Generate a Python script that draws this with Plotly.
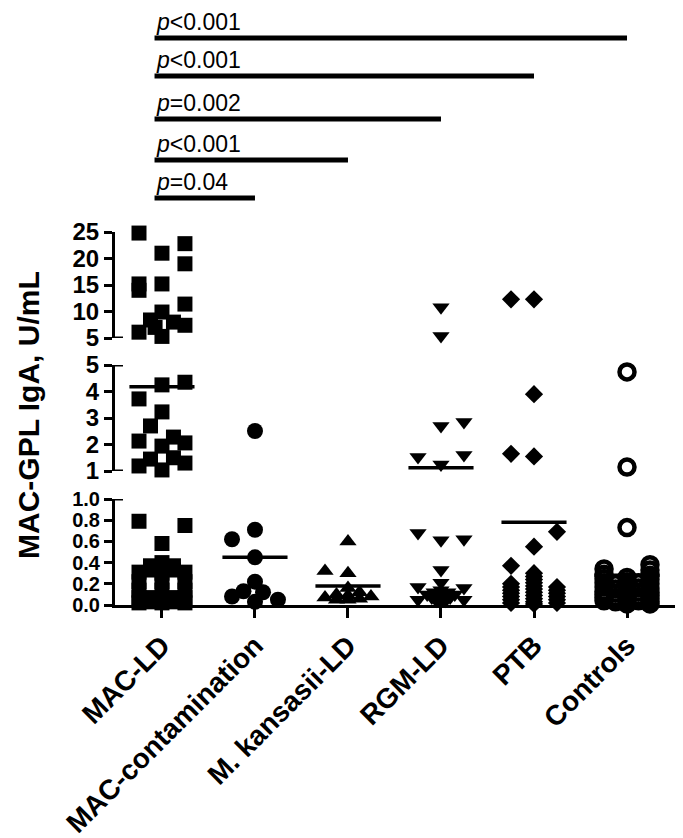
import plotly.graph_objects as go

# ---------------- data ----------------
categories = ["MAC-LD", "MAC-contamination", "M. kansasii-LD", "RGM-LD", "PTB", "Controls"]

mac_ld = [24.8, 22.8, 21.0, 19.0, 15.2, 14.0, 15.2, 11.4, 9.9, 8.4, 8.0, 7.4, 6.1, 5.3, 7.0,
          4.25, 4.35, 3.72, 3.23, 2.70, 2.13, 2.28, 2.06, 1.94, 1.45, 1.50, 1.19, 1.30, 1.04,
          0.79, 0.75, 0.58,
          0.40, 0.37, 0.37, 0.33, 0.33, 0.31, 0.31, 0.30, 0.22, 0.22, 0.22, 0.14, 0.14, 0.14,
          0.07, 0.07, 0.06, 0.07, 0.07, 0.03, 0.03, 0.02, 0.02, 0.02]
mac_contamination = [2.51, 0.71, 0.62, 0.45, 0.22, 0.13, 0.12, 0.08, 0.05, 0.03]
kansasii_ld = [0.60, 0.32, 0.30, 0.16, 0.12, 0.10, 0.09, 0.08, 0.07, 0.06, 0.05, 0.05]
rgm_ld = [10.8, 5.4, 2.70, 2.85, 1.53, 1.60, 1.25, 0.68, 0.61, 0.62, 0.33, 0.21, 0.17, 0.16,
          0.14, 0.12, 0.12, 0.10, 0.10, 0.08, 0.07, 0.07, 0.05, 0.05, 0.04, 0.04, 0.03]
ptb = [12.3, 1.65, 0.37, 0.20, 0.17, 0.14, 0.11, 0.08, 0.05, 0.02,
       12.3, 3.9, 1.55, 0.55, 0.30, 0.27, 0.24, 0.21, 0.18, 0.15, 0.12, 0.09, 0.06, 0.03, 0.01,
       0.69, 0.17, 0.14, 0.11, 0.08, 0.05, 0.02]
controls = [4.74, 1.15, 0.73, 0.26, 0.22, 0.19, 0.16, 0.13, 0.10, 0.07, 0.04, 0.01,
            0.34, 0.29, 0.25, 0.21, 0.17, 0.13, 0.10, 0.07, 0.04,
            0.38, 0.33, 0.28, 0.24, 0.20, 0.16, 0.12, 0.09, 0.06, 0.03, 0.01,
            0.20, 0.15, 0.11, 0.07, 0.03,
            0.21, 0.16, 0.12, 0.08, 0.04]

group_means = [4.18, 0.45, 0.18, 1.12, 0.78, 0.28]

comparison_targets = ["MAC-contamination", "M. kansasii-LD", "RGM-LD", "PTB", "Controls"]
p_labels = ["<i>p</i>=0.04", "<i>p</i><0.001", "<i>p</i>=0.002", "<i>p</i><0.001", "<i>p</i><0.001"]

bottom_ticks = [0.0, 0.2, 0.4, 0.6, 0.8, 1.0]
middle_ticks = [1, 2, 3, 4, 5]
top_ticks = [5, 10, 15, 20, 25]

# ---------------- layout helpers (scatter arrangement) ----------------
SLOT = 0.247  # horizontal column spacing of stacked points, in category units
slots = [
    [-1, 1, 0, 1, -1, -1, 0, 1, 0, -0.5, 0.5, 1, -1, 0, -0.3,
     0, 1, -1, 0, -0.5, -1, 0.5, 1, 0, -0.5, 0.5, -1, 1, 0,
     -1, 1, 0,
     0, -0.5, 0.5, -0.5, 0.5, -1, 1, 0, 0, -1, 1, -1, 0, 1,
     -1, 1, 0, -0.5, 0.5, -0.5, 0.5, -1, 1, 0],
    [0, 0, -1, 0, 0, -0.5, 0.35, -1, 1, 0],
    [0, -1, 0, 0, 0.5, -0.5, 0, 1, -1, 0.5, -0.5, 0],
    [0, 0, 0, 1, -1, 1, 0, -1, 0, 1, 0, 0, -1, 1,
     0, -0.3, 0.3, -0.6, 0.6, 0, -0.4, 0.4, -1, 1, -0.2, 0.2, 0],
    [-1] * 10 + [0] * 15 + [1] * 7,
    [0] * 12 + [-1] * 9 + [1] * 11 + [-0.5] * 5 + [0.5] * 5,
]

groups = [mac_ld, mac_contamination, kansasii_ld, rgm_ld, ptb, controls]

styles = [
    dict(symbol="square", size=15, color="black", line=dict(width=0)),
    dict(symbol="circle", size=16, color="black", line=dict(width=0)),
    dict(symbol="triangle-up", size=15, color="black", line=dict(width=0)),
    dict(symbol="triangle-down", size=15, color="black", line=dict(width=0)),
    dict(symbol="diamond", size=14, color="black", line=dict(width=0)),
    dict(symbol="circle-open", size=15, color="black", line=dict(color="black", width=4.5)),
]

# segments of the broken axis: (axis id, low, high)
segments = [("y", 0.0, 1.0), ("y2", 1.0, 5.0), ("y3", 5.0, 25.0)]


def segment_of(v):
    if v < 1.0:
        return "y"
    if v < 5.0:
        return "y2"
    return "y3"


fig = go.Figure()

for gi, (vals, sl, st) in enumerate(zip(groups, slots, styles)):
    for axid, lo, hi in segments:
        xs = [gi + s * SLOT for v, s in zip(vals, sl) if segment_of(v) == axid]
        ys = [v for v in vals if segment_of(v) == axid]
        if not ys:
            continue
        fig.add_trace(go.Scatter(x=xs, y=ys, yaxis=axid, xaxis="x", mode="markers",
                                 marker=st, cliponaxis=False, hoverinfo="skip"))

# mean lines
HALF = 0.35
for gi, m in enumerate(group_means):
    axid = segment_of(m)
    fig.add_trace(go.Scatter(x=[gi - HALF, gi + HALF], y=[m, m], yaxis=axid, xaxis="x",
                             mode="lines", line=dict(color="black", width=3.5),
                             cliponaxis=False, hoverinfo="skip"))

# ---------------- axes ----------------
# the page body has an 8px margin, so the figure is made 8px smaller and
# all page-pixel positions below are measured in page coordinates.
OFF = 8
W, H = 683 - OFF, 838 - OFF
PLOT_LEFT, PLOT_RIGHT, PLOT_TOP, PLOT_BOTTOM = 115, 675, 20, 605  # page pixels
ML = PLOT_LEFT - OFF
MR = (W + OFF) - PLOT_RIGHT
MT = PLOT_TOP - OFF
MB = (H + OFF) - PLOT_BOTTOM
PH = PLOT_BOTTOM - PLOT_TOP
PW = PLOT_RIGHT - PLOT_LEFT


def ypaper(px):
    return (PLOT_BOTTOM - px) / PH


def dom(px_low, px_high):
    return [ypaper(px_low), ypaper(px_high)]


FONT = "Liberation Sans, Arial, sans-serif"


def yaxis_style(size):
    return dict(showline=True, linecolor="black", linewidth=3, ticks="outside",
                tickcolor="black", tickwidth=3, ticklen=8, showgrid=False, zeroline=False,
                tickfont=dict(family=FONT, size=size, color="black", weight="bold"),
                anchor="x", fixedrange=True, automargin=False)


fig.update_layout(
    width=W, height=H,
    margin=dict(l=ML, r=MR, t=MT, b=MB, pad=0, autoexpand=False),
    plot_bgcolor="white", paper_bgcolor="white",
    showlegend=False,
    xaxis=dict(domain=[0, 1], range=[-0.505, 5.516], tickmode="array",
               tickvals=list(range(len(categories))), ticktext=categories,
               tickangle=-45, showline=True, linecolor="black", linewidth=3,
               ticks="outside", ticklen=10, tickwidth=3, tickcolor="black",
               showgrid=False, zeroline=False, anchor="y", fixedrange=True,
               automargin=False,
               tickfont=dict(family=FONT, size=28, color="black", weight="bold")),
    yaxis=dict(domain=dom(605, 499), range=[0, 1], tickvals=bottom_ticks,
               tickformat=".1f", **yaxis_style(20)),
    yaxis2=dict(domain=dom(471, 365), range=[1, 5], tickvals=middle_ticks,
                **yaxis_style(24)),
    yaxis3=dict(domain=dom(338, 232), range=[5, 25], tickvals=top_ticks,
                **yaxis_style(24)),
)

# segment-end marks of the broken axis (extend right of the axis line)
ext = 8 / PW
for axid, val in [("y", 1.0), ("y2", 1.0), ("y2", 5.0), ("y3", 5.0)]:
    fig.add_shape(type="line", xref="x domain", yref=axid, x0=0, x1=ext, y0=val, y1=val,
                  line=dict(color="black", width=3))

# y-axis title
fig.add_annotation(text="<b>MAC-GPL IgA, U/mL</b>", textangle=-90, xref="paper", yref="paper",
                   x=(28 - PLOT_LEFT) / PW, y=ypaper(415),
                   xanchor="center", yanchor="middle", showarrow=False,
                   font=dict(family=FONT, size=30, color="black"))

# significance bars
bar_px = [198, 160, 119, 76, 38]
for k, (tgt, lab) in enumerate(zip(comparison_targets, p_labels)):
    j = categories.index(tgt)
    yb = ypaper(bar_px[k])
    fig.add_shape(type="line", xref="x", yref="paper", x0=-0.08, x1=j, y0=yb, y1=yb,
                  line=dict(color="black", width=5))
    fig.add_annotation(text=lab, xref="x", yref="paper", x=-0.09, y=yb + 1 / PH,
                       xanchor="left", yanchor="bottom", showarrow=False,
                       font=dict(family=FONT, size=23, color="black"))

fig.write_html("out.html")
